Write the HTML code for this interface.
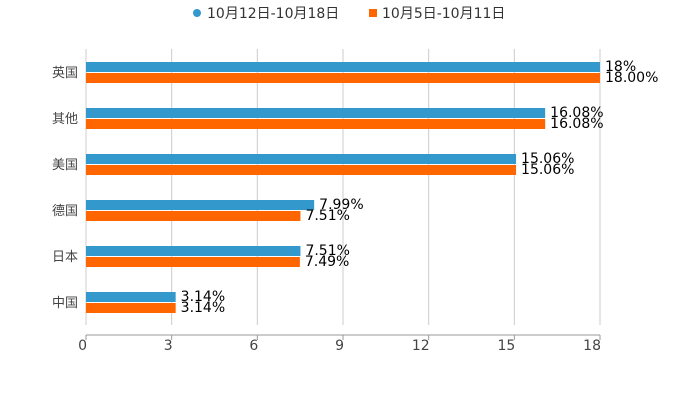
<!DOCTYPE html>
<html><head><meta charset="utf-8"><style>
body{margin:0;background:#fff;font-family:"Liberation Sans","Noto Sans CJK SC",sans-serif}
svg text{font-family:"DejaVu Sans","Noto Sans CJK SC",sans-serif}
</style></head><body>
<svg id="c" width="700" height="400">
<g>
<g><circle cx="197" cy="13" r="4" fill="#3399cc"/><text x="207" y="18" font-size="14" fill="#333">10月12日-10月18日</text></g>
<g><rect x="369" y="9" width="8" height="8" fill="#ff6600"/><text x="382" y="18" font-size="14" fill="#333">10月5日-10月11日</text></g>
</g>
<g id="grid"></g><g id="bars"></g><g id="axis"></g>
</svg>
<script>
const categories=["英国","其他","美国","德国","日本","中国"];
const seriesA=[18,16.08,15.06,7.99,7.51,3.14];
const labelsA=["18%","16.08%","15.06%","7.99%","7.51%","3.14%"];
const seriesB=[18,16.08,15.06,7.51,7.49,3.14];
const labelsB=["18.00%","16.08%","15.06%","7.51%","7.49%","3.14%"];
const ticks=[0,3,6,9,12,15,18];
const NS="http://www.w3.org/2000/svg";
const x0=86,x1=600,topY=49,band=46;
const xs=v=>x0+(v/18)*(x1-x0);
const yc=i=>topY+band/2+i*band;
function mk(t,a,p){const e=document.createElementNS(NS,t);for(const k in a)e.setAttribute(k,a[k]);p.appendChild(e);return e;}
const G=document.getElementById('grid'),B=document.getElementById('bars'),A=document.getElementById('axis');
ticks.forEach(t=>{
 const l=mk('line',{x1:xs(t),x2:xs(t),y1:topY,y2:325,stroke:'#ccc'},G);
 
 
 const tk=mk('line',{x1:xs(t),x2:xs(t),y1:335,y2:340,stroke:'#999'},A);
 
 
 const tx=mk('text',{x:xs(t)+1,y:350,'text-anchor':'end','font-size':14,fill:'#444'},A);
 tx.textContent=t;
 
 
});
const ax=mk('line',{x1:x0,x2:x1,y1:335,y2:335,stroke:'#999'},A);


categories.forEach((c,i)=>{
 const y=yc(i);
 const cl=mk('text',{x:78,y:y+5,'text-anchor':'end','font-size':13,fill:'#444'},A);
 cl.textContent=c;
 
 
 const ra=mk('rect',{x:x0,y:y-10,width:xs(seriesA[i])-x0,height:10,fill:'#3399cc'},B);
 
 
 const rb=mk('rect',{x:x0,y:y+1,width:xs(seriesB[i])-x0,height:10,fill:'#ff6600'},B);
 
 
 const ta=mk('text',{x:xs(seriesA[i])+5,y:y-1,'font-size':14,fill:'#000'},B);
 ta.textContent=labelsA[i];
 
 
 const tb=mk('text',{x:xs(seriesB[i])+5,y:y+10,'font-size':14,fill:'#000'},B);
 tb.textContent=labelsB[i];
 
 
});
</script>
</body></html>
